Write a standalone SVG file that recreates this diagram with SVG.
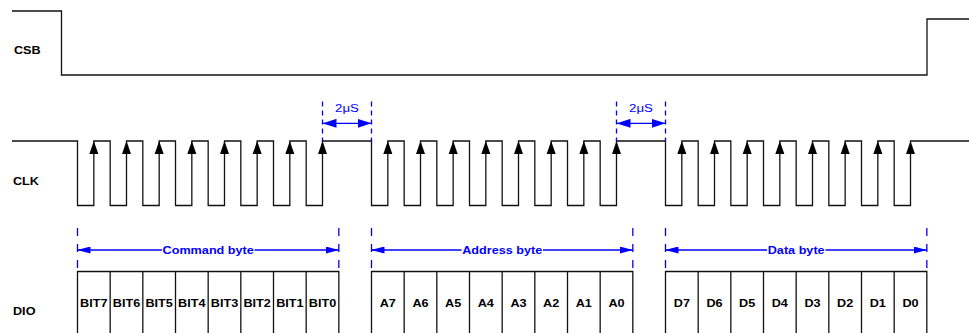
<svg xmlns="http://www.w3.org/2000/svg" width="969" height="333" viewBox="0 0 969 333">
<style>
.sig{fill:none;stroke:#111;stroke-width:1.3}
.t{font-family:"Liberation Sans",Arial,sans-serif;font-size:11px;font-weight:bold;fill:#000;transform:scale(1.15,1)}
.c{text-anchor:middle}
.bt{fill:#00f;text-anchor:middle}
.us{font-weight:normal;font-size:11.5px;fill:#00f;text-anchor:middle}
.dim{fill:none;stroke:#00f;stroke-width:1.3}
.d1{fill:none;stroke:#00f;stroke-width:1.3;stroke-dasharray:8 8}
.d2{fill:none;stroke:#00f;stroke-width:1.3;stroke-dasharray:5 4}
.up{fill:#000}
</style>
<defs>
<path id="up" d="M0,0 L-4.5,13 L4.5,13 Z"/>
<marker id="ah" markerUnits="userSpaceOnUse" viewBox="0 0 13 7" markerWidth="13" markerHeight="7" refX="13" refY="3.5" orient="auto-start-reverse"><path d="M0,0 L13,3.5 L0,7 Z" fill="#00f"/></marker>
<marker id="as" markerUnits="userSpaceOnUse" viewBox="0 0 14 9" markerWidth="14" markerHeight="9" refX="14" refY="4.5" orient="auto-start-reverse"><path d="M0,0 L14,4.5 L0,9 Z" fill="#00f"/></marker>
</defs>
<rect width="969" height="333" fill="#fff"/>

<g id="csb">
<path class="sig" d="M12,11 H61.5 V75 H927 V19 H969"/>
<text class="t" x="12.17" y="54">CSB</text>
</g>

<g id="clk">
<path class="sig" d="M12,141 H77.5 V205.5 H93.83 V141 H110.17 V205.5 H126.5 V141 H142.83 V205.5 H159.17 V141 H175.5 V205.5 H191.83 V141 H208.17 V205.5 H224.5 V141 H240.83 V205.5 H257.17 V141 H273.5 V205.5 H289.83 V141 H306.17 V205.5 H322.5 V141 H371.5 V205.5 H387.83 V141 H404.17 V205.5 H420.5 V141 H436.83 V205.5 H453.17 V141 H469.5 V205.5 H485.83 V141 H502.17 V205.5 H518.5 V141 H534.83 V205.5 H551.17 V141 H567.5 V205.5 H583.83 V141 H600.17 V205.5 H616.5 V141 H665.5 V205.5 H681.83 V141 H698.17 V205.5 H714.5 V141 H730.83 V205.5 H747.17 V141 H763.5 V205.5 H779.83 V141 H796.17 V205.5 H812.5 V141 H828.83 V205.5 H845.17 V141 H861.5 V205.5 H877.83 V141 H894.17 V205.5 H910.5 V141 H969"/>
<g class="up">
<use href="#up" x="93.83" y="141"/><use href="#up" x="126.5" y="141"/><use href="#up" x="159.17" y="141"/><use href="#up" x="191.83" y="141"/><use href="#up" x="224.5" y="141"/><use href="#up" x="257.17" y="141"/><use href="#up" x="289.83" y="141"/><use href="#up" x="322.5" y="141"/>
<use href="#up" x="387.83" y="141"/><use href="#up" x="420.5" y="141"/><use href="#up" x="453.17" y="141"/><use href="#up" x="485.83" y="141"/><use href="#up" x="518.5" y="141"/><use href="#up" x="551.17" y="141"/><use href="#up" x="583.83" y="141"/><use href="#up" x="616.5" y="141"/>
<use href="#up" x="681.83" y="141"/><use href="#up" x="714.5" y="141"/><use href="#up" x="747.17" y="141"/><use href="#up" x="779.83" y="141"/><use href="#up" x="812.5" y="141"/><use href="#up" x="845.17" y="141"/><use href="#up" x="877.83" y="141"/><use href="#up" x="910.5" y="141"/>
</g>
<text class="t" x="11.3" y="185">CLK</text>
</g>

<g id="dio">
<path class="sig" d="M77.5,333 V271.5 H338.83 V333 M110.17,271.5 V333 M142.83,271.5 V333 M175.5,271.5 V333 M208.17,271.5 V333 M240.83,271.5 V333 M273.5,271.5 V333 M306.17,271.5 V333
M371.5,333 V271.5 H632.83 V333 M404.17,271.5 V333 M436.83,271.5 V333 M469.5,271.5 V333 M502.17,271.5 V333 M534.83,271.5 V333 M567.5,271.5 V333 M600.17,271.5 V333
M665.5,333 V271.5 H926.83 V333 M698.17,271.5 V333 M730.83,271.5 V333 M763.5,271.5 V333 M796.17,271.5 V333 M828.83,271.5 V333 M861.5,271.5 V333 M894.17,271.5 V333"/>
<text class="t" x="11.3" y="315">DIO</text>
<text class="t c" x="81.59" y="307">BIT7</text><text class="t c" x="110" y="307">BIT6</text><text class="t c" x="138.41" y="307">BIT5</text><text class="t c" x="166.81" y="307">BIT4</text><text class="t c" x="195.22" y="307">BIT3</text><text class="t c" x="223.62" y="307">BIT2</text><text class="t c" x="252.03" y="307">BIT1</text><text class="t c" x="280.43" y="307">BIT0</text>
<text class="t c" x="337.25" y="307">A7</text><text class="t c" x="365.65" y="307">A6</text><text class="t c" x="394.06" y="307">A5</text><text class="t c" x="422.46" y="307">A4</text><text class="t c" x="450.87" y="307">A3</text><text class="t c" x="479.28" y="307">A2</text><text class="t c" x="507.68" y="307">A1</text><text class="t c" x="536.09" y="307">A0</text>
<text class="t c" x="592.9" y="307">D7</text><text class="t c" x="621.3" y="307">D6</text><text class="t c" x="649.71" y="307">D5</text><text class="t c" x="678.11" y="307">D4</text><text class="t c" x="706.52" y="307">D3</text><text class="t c" x="734.93" y="307">D2</text><text class="t c" x="763.33" y="307">D1</text><text class="t c" x="791.74" y="307">D0</text>
</g>

<g id="connectors">
<path class="d2" d="M322.5,101.5 V141 M371.5,101.5 V141 M616.5,101.5 V141 M665.5,101.5 V141"/>
<line class="dim" x1="322.5" y1="123.3" x2="371.5" y2="123.3" marker-start="url(#as)" marker-end="url(#as)"/>
<line class="dim" x1="616.5" y1="123.3" x2="665.5" y2="123.3" marker-start="url(#as)" marker-end="url(#as)"/>
<text class="t us" x="301.74" y="112">2μS</text>
<text class="t us" x="557.39" y="112">2μS</text>

<path class="d1" d="M77.5,228 V271 M338.83,228 V271 M371.5,228 V271 M632.83,228 V271 M665.5,228 V271 M926.83,228 V271"/>
<line class="dim" x1="162" y1="250" x2="77.5" y2="250" marker-end="url(#ah)"/>
<line class="dim" x1="254.5" y1="250" x2="338.83" y2="250" marker-end="url(#ah)"/>
<line class="dim" x1="461.5" y1="250" x2="371.5" y2="250" marker-end="url(#ah)"/>
<line class="dim" x1="543" y1="250" x2="632.83" y2="250" marker-end="url(#ah)"/>
<line class="dim" x1="767" y1="250" x2="665.5" y2="250" marker-end="url(#ah)"/>
<line class="dim" x1="825.5" y1="250" x2="926.83" y2="250" marker-end="url(#ah)"/>
<text class="t bt" x="181.04" y="254">Command byte</text>
<text class="t bt" x="436.7" y="254">Address byte</text>
<text class="t bt" x="692.35" y="254">Data byte</text>
</g>
</svg>
